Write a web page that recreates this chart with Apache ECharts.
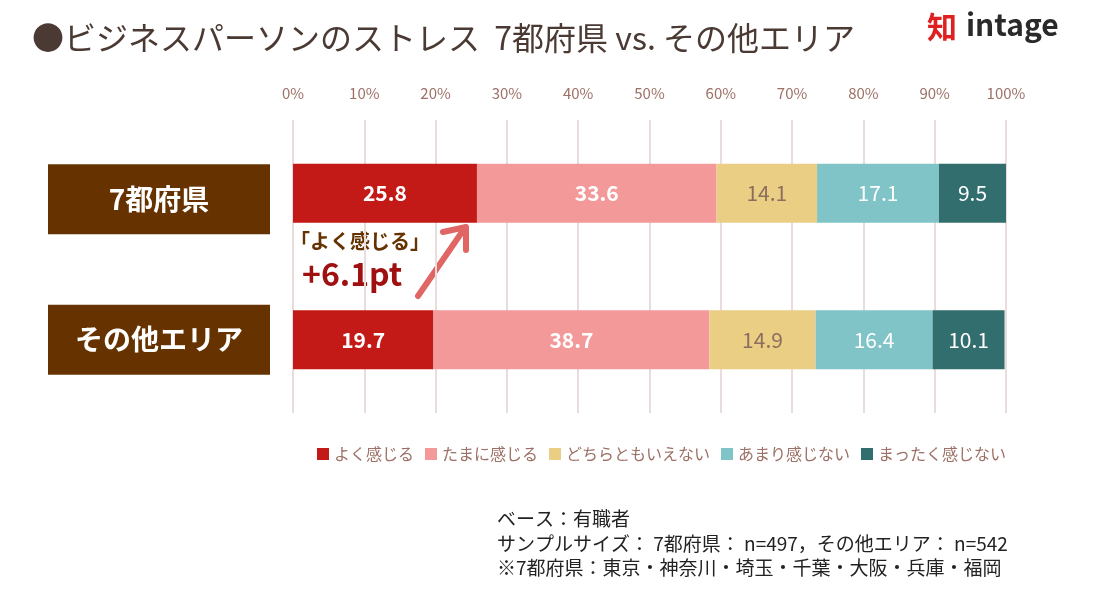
<!DOCTYPE html>
<html>
<head>
<meta charset="utf-8">
<script src="https://cdn.jsdelivr.net/npm/echarts@6/dist/echarts.min.js"></script>
<style>
  html, body { margin: 0; padding: 0; background: #ffffff; }
  #stress { width: 1093px; height: 594px; }
</style>
</head>
<body>
<div id="stress"></div>
<script>
// エリア
const areas = ["7都府県", "その他エリア"];
// 回答項目
const answers = ["よく感じる", "たまに感じる", "どちらともいえない", "あまり感じない", "まったく感じない"];
// 回答割合（%）
const yokuKanjiru = [25.8, 19.7];
const tamaniKanjiru = [33.6, 38.7];
const dochiramo = [14.1, 14.9];
const amariKanjinai = [17.1, 16.4];
const mattakuKanjinai = [9.5, 10.1];
const xTicks = [0, 10, 20, 30, 40, 50, 60, 70, 80, 90, 100];

const FONT = '"Noto Sans CJK JP", "Noto Sans", sans-serif';
const colors = ["#C41A17", "#F4999A", "#E9CE84", "#80C4C8", "#336E6E"];
const labelColors = ["#ffffff", "#ffffff", "#8C6E5E", "#ffffff", "#ffffff"];
const labelWeights = ["bold", "bold", "normal", "normal", "normal"];
const values = [yokuKanjiru, tamaniKanjiru, dochiramo, amariKanjinai, mattakuKanjinai];

const chart = echarts.init(document.getElementById("stress"));

const series = answers.map((name, i) => ({
  name: name,
  type: "bar",
  stack: "total",
  barWidth: 59,
  data: values[i],
  itemStyle: { color: colors[i] },
  label: {
    show: true,
    position: "inside",
    formatter: p => p.value.toFixed(1),
    color: labelColors[i],
    fontSize: 21,
    fontWeight: labelWeights[i],
    fontFamily: FONT
  },
  emphasis: { disabled: true }
}));

chart.setOption({
  animation: false,
  textStyle: { fontFamily: FONT },
  title: {
    text: "●ビジネスパーソンのストレス  7都府県 vs. その他エリア",
    left: 27,
    top: 17,
    textStyle: {
      color: "#4A3A33",
      fontSize: 32,
      fontWeight: "normal",
      fontFamily: FONT
    }
  },
  legend: {
    data: answers,
    left: 312,
    top: 441,
    itemWidth: 12,
    itemHeight: 12,
    itemGap: 11,
    icon: "rect",
    textStyle: { color: "#9C7066", fontSize: 16, fontFamily: FONT }
  },
  grid: {
    left: 293,
    right: 87,
    top: 120,
    height: 293
  },
  xAxis: {
    type: "value",
    position: "top",
    min: 0,
    max: 100,
    interval: 10,
    axisLine: { show: false },
    axisTick: { show: false },
    axisLabel: {
      margin: 19,
      color: "#9C7066",
      fontSize: 15,
      formatter: v => xTicks.includes(v) ? v + "%" : ""
    },
    splitLine: { lineStyle: { color: "#E8DCDC", width: 2 } }
  },
  yAxis: {
    type: "category",
    inverse: true,
    data: areas,
    axisLine: { show: false },
    axisTick: { show: false },
    axisLabel: {
      margin: 23,
      // 1段目の箱は少し下にずれている
      formatter: (v, idx) => (idx === 0 ? "{gap|}\n" : "") + "{box|" + v + "}",
      rich: {
        gap: { height: 12, lineHeight: 12 },
        box: {
          color: "#ffffff",
          fontSize: 28,
          fontWeight: "bold",
          fontFamily: FONT,
          backgroundColor: "#663300",
          width: 222,
          height: 70,
          lineHeight: 70,
          align: "center"
        }
      }
    }
  },
  series: series,
  graphic: [
    {
      type: "text",
      left: 290,
      top: 231,
      style: {
        text: "「よく感じる」",
        fill: "#663300",
        font: "bold 20px " + FONT
      }
    },
    {
      type: "text",
      left: 302,
      top: 258,
      style: {
        text: "+6.1pt",
        fill: "#A01010",
        font: "bold 32px " + FONT
      }
    },
    {
      type: "line",
      shape: { x1: 418, y1: 296, x2: 462, y2: 232 },
      style: { stroke: "#E06666", lineWidth: 6, lineCap: "round" }
    },
    {
      type: "polyline",
      shape: { points: [[443, 232], [466, 227], [466, 250]] },
      style: { stroke: "#E06666", lineWidth: 6, lineCap: "round", lineJoin: "round", fill: null }
    },
    {
      type: "text",
      left: 927,
      top: 12,
      style: {
        text: "知",
        fill: "#E02020",
        font: "bold 30px " + FONT
      }
    },
    {
      type: "text",
      left: 966,
      top: 10,
      style: {
        text: "intage",
        fill: "#2A2A2A",
        font: "bold 30px " + FONT
      }
    },
    {
      type: "text",
      left: 497,
      top: 507,
      style: {
        text: "ベース：有職者\nサンプルサイズ： 7都府県： n=497，その他エリア： n=542\n※7都府県：東京・神奈川・埼玉・千葉・大阪・兵庫・福岡",
        fill: "#222222",
        font: "19px " + FONT,
        lineHeight: 24.5
      }
    }
  ]
});
</script>
</body>
</html>
